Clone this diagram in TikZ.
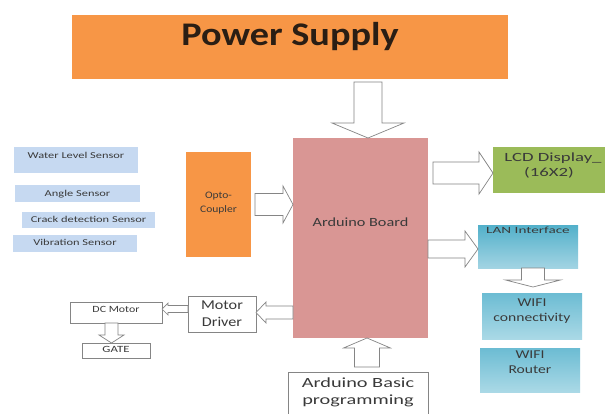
\documentclass[tikz,border=0pt]{standalone}
\usepackage{fontspec}
\setmainfont{Carlito}
\usetikzlibrary{calc}
\definecolor{orng}{HTML}{F79646}
\definecolor{ardpink}{HTML}{D99694}
\definecolor{lcdgreen}{HTML}{9BBB59}
\definecolor{sensblue}{HTML}{C6D9F1}
\definecolor{lantop}{HTML}{52B0CA}
\definecolor{lanbot}{HTML}{A2D4E3}
\definecolor{wftop}{HTML}{6CBCD3}
\definecolor{wfbot}{HTML}{AAD9E6}
\definecolor{linegray}{HTML}{858585}
\definecolor{txtgray}{HTML}{3A3A3A}
\definecolor{pstext}{HTML}{2A1E14}
\newcommand{\fs}[3]{\fontsize{#1}{#2}\selectfont\addfontfeature{FakeStretch=#3}}
\newcommand{\tx}[2]{\raisebox{#1}[0pt][0pt]{#2}}
\newcommand{\tl}[2]{\raisebox{#1}[0pt][0pt]{\begin{tabular}[t]{@{}c@{}}#2\end{tabular}}}
% horizontal block arrow: tail, tip, shaft half, head half, head length (signed)
\newcommand{\barH}[5]{\draw[barrow] ($(#1)+(0,{-(#3)})$) -- ($(#2)+({-(#5)},{-(#3)})$) -- ($(#2)+({-(#5)},{-(#4)})$) -- (#2) -- ($(#2)+({-(#5)},{#4})$) -- ($(#2)+({-(#5)},{#3})$) -- ($(#1)+(0,{#3})$) -- cycle;}
% vertical block arrow
\newcommand{\barV}[5]{\draw[barrow] ($(#1)+({-(#3)},0)$) -- ($(#2)+({-(#3)},{-(#5)})$) -- ($(#2)+({-(#4)},{-(#5)})$) -- (#2) -- ($(#2)+({#4},{-(#5)})$) -- ($(#2)+({#3},{-(#5)})$) -- ($(#1)+({#3},0)$) -- cycle;}
\tikzset{
  blk/.style={inner sep=0pt, outer sep=0pt, text=txtgray},
  outl/.style={blk, draw=linegray, line width=0.6pt, fill=white},
  sens/.style={blk, fill=sensblue, minimum height=17pt, font=\fs{9}{11}{1.38}},
  barrow/.style={draw=linegray, fill=white, line width=0.7pt, line join=miter},
}
\begin{document}
\begin{tikzpicture}[x=1pt,y=-1pt]
\useasboundingbox (0,0) rectangle (614,413);
\fill[white] (0,0) rectangle (614,413);

\node[blk, fill=orng, minimum width=436pt, minimum height=64pt, font=\fs{33}{40}{1.16}\bfseries, text=pstext] (pw) at (290,47) {\tx{2pt}{Power Supply}};

\node[blk, fill=ardpink, minimum width=135pt, minimum height=200pt, font=\fs{12.5}{15}{1.3}] (ard) at (360.5,238) {\tx{12pt}{Arduino Board}};

\node[blk, fill=orng, minimum width=65pt, minimum height=105pt, font=\fs{10}{14}{1.15}] (opto) at (218.5,204.5) {\tl{6.5pt}{Opto-\\Coupler}};

\node[sens, minimum width=124pt, minimum height=26pt] (s1) at (76,160) {\tx{2pt}{Water Level Sensor}};
\node[sens, minimum width=125pt] (s2) at (77.5,193.5) {\tx{-2.5pt}{Angle Sensor}};
\node[sens, minimum width=133pt, minimum height=16pt] (s3) at (88.5,220) {\tx{-2pt}{Crack detection Sensor}};
\node[sens, minimum width=124pt] (s4) at (75,243.5) {\tx{-1.5pt}{Vibration Sensor}};

\node[blk, fill=lcdgreen, minimum width=112pt, minimum height=46pt, font=\fs{12.5}{15}{1.5}] (lcd) at (549,170) {\tl{9pt}{\hspace*{8pt}LCD Display\_\\(16X2)}};

\node[blk, top color=lantop, bottom color=lanbot, minimum width=100pt, minimum height=43pt, font=\fs{9.5}{11}{1.6}] (lan) at (528,246.5) {\tx{13.5pt}{LAN Interface}};

\node[blk, top color=wftop, bottom color=wfbot, minimum width=100pt, minimum height=46pt, font=\fs{12}{15}{1.3}] (wifi) at (532,316) {\tl{10pt}{WIFI\\connectivity}};
\node[blk, top color=wftop, bottom color=wfbot, minimum width=100pt, minimum height=44pt, font=\fs{12}{15}{1.3}] (router) at (530,370) {\tl{12pt}{WIFI\\Router}};

\node[outl, minimum width=68pt, minimum height=36pt, font=\fs{13.5}{17}{1.2}] (md) at (222,314) {\tl{5pt}{Motor\\Driver}};
\node[outl, minimum width=92pt, minimum height=21pt, font=\fs{9.5}{11}{1.25}] (dc) at (116,312.5) {\tx{0pt}{DC Motor}};
\node[outl, minimum width=68pt, minimum height=15pt, font=\fs{9.5}{11}{1.35}] (gate) at (116,350.5) {\tx{-2pt}{GATE}};
\node[outl, minimum width=140pt, minimum height=56pt, font=\fs{14}{17}{1.45}] (prog) at (358,400) {\tl{13pt}{Arduino Basic\\programming}};

% block arrows
\coordinate (pa) at ($(pw.south -| ard.north)+(7.5,3)$);
\coordinate (pb) at ($(ard.north)+(7.5,0)$);
\barV{pa}{pb}{14}{36}{15}

\coordinate (oa) at ($(opto.east)+(4,0)$);
\coordinate (ob) at (opto.east -| ard.west);
\barH{oa}{ob}{11}{18.5}{10}

\coordinate (lb) at ($(lcd.west)+(0,3)$);
\coordinate (la) at ($(ard.east |- lb)+(5,0)$);
\barH{la}{lb}{11}{21}{14}

\coordinate (nb) at ($(lan.west)+(0,2.5)$);
\coordinate (na) at (ard.east |- nb);
\barH{na}{nb}{9}{18}{13}

\coordinate (wa) at ($(lan.south)+(5,0)$);
\coordinate (wb) at ($(wifi.north -| wa)+(0,-6)$);
\barV{wa}{wb}{11.5}{27.5}{7}

\coordinate (mb) at ($(md.east)+(0,-1.5)$);
\coordinate (ma) at (ard.west |- mb);
\barH{ma}{mb}{6.5}{10.5}{-10}

\coordinate (da) at ($(md.west)+(0,-5)$);
\coordinate (db) at (dc.east |- da);
\barH{da}{db}{3.5}{6}{-6}

\coordinate (ga) at ($(dc.south)+(-4.5,0)$);
\coordinate (gb) at (gate.north -| ga);
\barV{ga}{gb}{6.5}{12.5}{8}

\coordinate (qa) at ($(prog.north)+(9,-5)$);
\coordinate (qb) at (ard.south -| qa);
\barV{qa}{qb}{12.5}{23.5}{-10}
\end{tikzpicture}
\end{document}
